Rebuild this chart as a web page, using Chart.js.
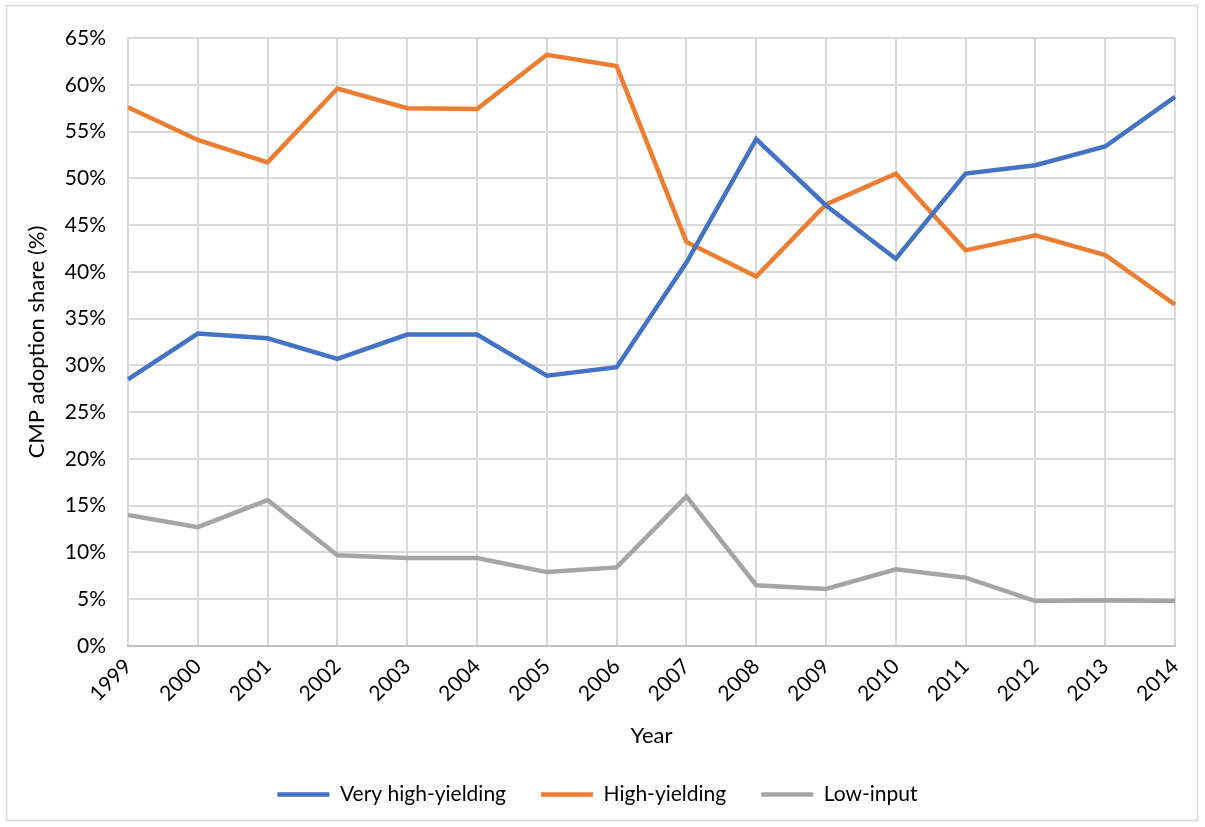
<!DOCTYPE html>
<html><head><meta charset="utf-8">
<script src="https://cdn.jsdelivr.net/npm/chart.js@4"></script>
<style>html,body{margin:0;padding:0;background:#fff;}#wrap{width:1205px;height:827px;}</style>
</head><body><div id="wrap"><canvas id="c" width="1205" height="827"></canvas></div>
<script>
const years = ['1999','2000','2001','2002','2003','2004','2005','2006','2007','2008','2009','2010','2011','2012','2013','2014'];
const veryHigh = [28.5,33.4,32.9,30.7,33.3,33.3,28.9,29.8,41.0,54.2,47.1,41.4,50.5,51.4,53.4,58.7];
const high = [57.6,54.1,51.7,59.6,57.5,57.4,63.2,62.0,43.2,39.5,47.2,50.5,42.3,43.9,41.8,36.5];
const lowInput = [14.0,12.7,15.6,9.7,9.4,9.4,7.9,8.4,16.0,6.5,6.1,8.2,7.3,4.8,4.9,4.8];
const seriesNames = ['Very high-yielding','High-yielding','Low-input'];
const FONT = 'Lato, "Open Sans", sans-serif';

const border = {
  id:'border',
  afterDraw(chart){
    const ctx = chart.ctx; ctx.save();
    ctx.strokeStyle='#d9d9d9'; ctx.lineWidth=1.5;
    ctx.strokeRect(6.5,5.5,1191,815);
    ctx.restore();
  }
};

new Chart(document.getElementById('c'), {
  type:'line',
  data:{
    labels: years,
    datasets:[
      {label:seriesNames[0], data:veryHigh, borderColor:'#4472C4', backgroundColor:'#4472C4'},
      {label:seriesNames[1], data:high, borderColor:'#ED7D31', backgroundColor:'#ED7D31'},
      {label:seriesNames[2], data:lowInput, borderColor:'#A5A5A5', backgroundColor:'#A5A5A5'}
    ].map(d=>Object.assign(d,{borderWidth:4.5, pointRadius:0, tension:0, pointStyle:'line', fill:false, borderJoinStyle:'miter'}))
  },
  options:{
    responsive:false, animation:false,
    layout:{padding:{left:20,right:30,top:38,bottom:12}},
    plugins:{
      legend:{position:'bottom', labels:{usePointStyle:true, pointStyle:'line', pointStyleWidth:52, boxHeight:4, color:'#000', font:{family:FONT,size:21}, padding:35}},
      tooltip:{enabled:false}
    },
    scales:{
      x:{
        offset:false,
        grid:{color:'#d9d9d9', lineWidth:2, drawTicks:false},
        border:{color:'#bfbfbf', width:2},
        ticks:{color:'#000', font:{family:FONT,size:21}, maxRotation:45, minRotation:45, padding:8},
        title:{display:true, text:'Year', color:'#000', font:{family:FONT,size:22}, padding:{top:0,bottom:0}},
        afterFit(s){ s.height = 103; }
      },
      y:{
        min:0,max:65,
        grid:{color:'#d9d9d9', lineWidth:2, drawTicks:false},
        border:{display:false},
        ticks:{stepSize:5, color:'#000', font:{family:FONT,size:21}, padding:22, callback:v=>v+'%'},
        title:{display:true, text:'CMP adoption share (%)', color:'#000', font:{family:FONT,size:22}, padding:{bottom:4}},
        afterFit(s){ s.width = 108; }
      }
    }
  },
  plugins:[border]
});
</script></body></html>
